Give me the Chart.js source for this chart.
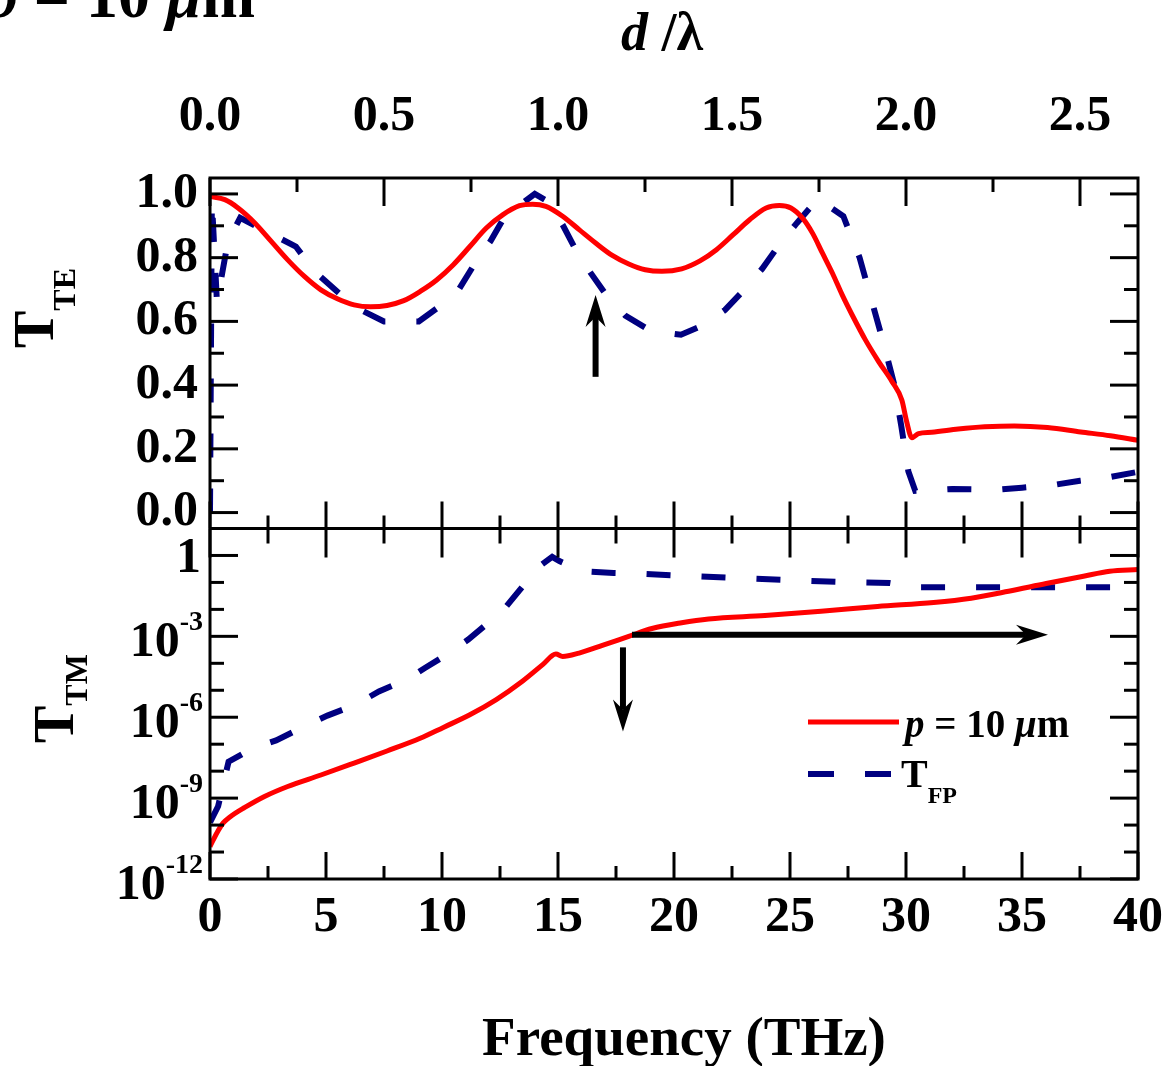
<!DOCTYPE html>
<html>
<head>
<meta charset="utf-8">
<script src="https://cdn.jsdelivr.net/npm/chart.js@4.4.1/dist/chart.umd.min.js"></script>
<style>
  body { margin: 0; background: #fff; }
  canvas { display: block; }
</style>
</head>
<body>
<canvas id="transChart" width="1172" height="1066"></canvas>
<script>
const SERIF = "'Liberation Serif', 'Times New Roman', serif";
const RED = '#ff0000';
const NAVY = '#000080';

// TE transmission (top panel), p = 10 um
const teFreq = [0, 0.64, 1.21, 1.93, 2.64, 3.35, 4.07, 4.78, 5.49, 6.21, 6.92, 7.63, 8.35, 9.06,
  9.77, 10.49, 11.2, 11.91, 12.63, 13.34, 13.91, 14.48, 15.2, 15.91, 16.62, 17.34, 18.05, 18.76,
  19.48, 20.33, 21.12, 21.83, 22.55, 23.26, 23.97, 24.54, 25.04, 25.54, 25.97, 26.4, 26.83, 27.25,
  27.68, 28.25, 28.82, 29.4, 29.82, 30.03, 30.25, 30.54, 31.11, 32.25, 33.39, 34.67, 36.1, 37.53,
  38.81, 40];
const teT = [0.992, 0.982, 0.956, 0.909, 0.851, 0.793, 0.741, 0.699, 0.671, 0.652, 0.646, 0.65, 0.665, 0.694,
  0.73, 0.778, 0.835, 0.893, 0.935, 0.963, 0.968, 0.961, 0.93, 0.888, 0.846, 0.807, 0.78, 0.762,
  0.757, 0.765, 0.79, 0.825, 0.872, 0.919, 0.956, 0.964, 0.956, 0.924, 0.877, 0.814, 0.751, 0.683,
  0.62, 0.542, 0.474, 0.411, 0.353, 0.285, 0.235, 0.248, 0.252, 0.262, 0.269, 0.272, 0.267, 0.253,
  0.241, 0.227];

// TE Fabry-Perot reference
const teFpFreq = [0, 0.08, 0.3, 0.77, 1.3, 2.7, 3.7, 4.5, 5.6, 6.5, 7.5, 9.0, 9.8, 10.7, 11.4, 12.1,
  12.7, 14.0, 14.55, 15.2, 15.8, 16.4, 17.1, 17.9, 19.0, 20.3, 21.3, 22.2, 23.1, 23.8, 24.6, 25.3,
  26.2, 27.3, 28.0, 28.5, 29.0, 29.5, 29.8, 30.1, 30.4, 32.0, 34.0, 35.0, 36.3, 37.5, 38.7, 40];
const teFpT = [0, 0.98, 0.66, 0.85, 0.925, 0.872, 0.835, 0.757, 0.686, 0.636, 0.6, 0.6, 0.642, 0.697, 0.78, 0.853,
  0.929, 1.0, 0.977, 0.903, 0.82, 0.753, 0.681, 0.618, 0.57, 0.558, 0.589, 0.636, 0.705, 0.765, 0.847, 0.909,
  0.985, 0.93, 0.8, 0.67, 0.54, 0.4, 0.27, 0.13, 0.068, 0.074, 0.072, 0.078, 0.086, 0.1, 0.11, 0.128];

// TM transmission (bottom panel, log scale)
const tmFreq = [0, 0.29, 0.57, 0.86, 1.5, 2.35, 3.35, 4.78, 6.21, 7.63, 9.06, 10.06, 11.2, 12.34,
  13.48, 14.34, 14.91, 15.2, 15.91, 16.91, 18.05, 19.05, 20.33, 21.49, 23.92, 26.34, 28.77, 31.19,
  32.81, 34.42, 36.04, 37.65, 38.78, 40];
const tmT = [1.6e-11, 5.0e-11, 1.2e-10, 2.0e-10, 4.5e-10, 1.15e-9, 2.7e-9, 7.2e-9, 2.0e-8, 5.6e-8, 1.66e-7, 4.2e-7, 1.23e-6, 4.5e-6,
  2.2e-5, 8.9e-5, 2.2e-4, 1.8e-4, 2.4e-4, 4.6e-4, 1.0e-3, 1.95e-3, 3.2e-3, 4.4e-3, 5.9e-3, 8.5e-3, 1.29e-2, 1.8e-2,
  2.6e-2, 4.7e-2, 9.1e-2, 0.17, 0.26, 0.30];

// TM Fabry-Perot reference
const tmFpFreq = [0, 0.35, 0.8, 1.85, 2.85, 4.07, 5.06, 6.28, 7.28, 8.46, 9.28, 10.2, 11.13, 12.0,
  12.77, 13.48, 14.2, 14.75, 15.06, 16.05, 17.4, 18.4, 20.3, 22.7, 25.1, 27.5, 29.3, 30.5, 40];
const tmFpT = [1.26e-10, 5.0e-10, 2.24e-8, 7.2e-8, 1.38e-7, 4.6e-7, 1.15e-6, 2.9e-6, 9.1e-6, 2.45e-5, 6.8e-5, 2.1e-4, 7.6e-4, 3.2e-3,
  1.29e-2, 7.2e-2, 0.40, 0.89, 0.62, 0.26, 0.224, 0.214, 0.178, 0.145, 0.12, 0.102, 0.095, 0.066, 0.066];

// axis ticks
const freqTicks = [0, 5, 10, 15, 20, 25, 30, 35, 40];
const freqMinor = [2.5, 7.5, 12.5, 17.5, 22.5, 27.5, 32.5, 37.5];
const dLambdaTicks = [0, 0.5, 1.0, 1.5, 2.0, 2.5];
const dLambdaMinor = [0.25, 0.75, 1.25, 1.75, 2.25];
const teTicks = [0, 0.2, 0.4, 0.6, 0.8, 1.0];
const teMinor = [0.1, 0.3, 0.5, 0.7, 0.9];
const tmTicks = [1, 1e-3, 1e-6, 1e-9, 1e-12];
const tmMinor = [1e-1, 1e-2, 1e-4, 1e-5, 1e-7, 1e-8, 1e-10, 1e-11];

// d = 20 um, so d/lambda = 1 at 15 THz
const THZ_PER_DLAMBDA = 15;

// arrows, in data units of the panel they sit in
const arrows = [
  { axis: 'yTE', from: [16.62, 0.426], to: [16.62, 0.683] },
  { axis: 'yTM', from: [17.8, 3.9e-4], to: [17.8, 2.95e-7] },
  { axis: 'yTM', from: [18.19, 1.15e-3], to: [36.12, 1.15e-3] }
];

const pts = (xs, ys) => xs.map((x, i) => ({ x, y: ys[i] }));
const bold = size => ({ family: SERIF, size, weight: 'bold', lineHeight: 1.2 });

function richText(ctx, parts, x, y, align) {
  let w = 0;
  parts.forEach(p => {
    ctx.font = (p.italic ? 'italic ' : '') + 'bold ' + p.size + 'px ' + SERIF;
    p.w = ctx.measureText(p.t).width;
    w += p.w;
  });
  let cx = align === 'right' ? x - w : align === 'center' ? x - w / 2 : x;
  ctx.textAlign = 'left';
  ctx.textBaseline = 'alphabetic';
  parts.forEach(p => {
    ctx.font = (p.italic ? 'italic ' : '') + 'bold ' + p.size + 'px ' + SERIF;
    ctx.fillText(p.t, cx, y + (p.dy || 0));
    cx += p.w;
  });
}

function seg(ctx, x0, y0, x1, y1) {
  ctx.beginPath();
  ctx.moveTo(x0, y0);
  ctx.lineTo(x1, y1);
  ctx.stroke();
}

function drawArrow(ctx, x0, y0, x1, y1) {
  const len = Math.hypot(x1 - x0, y1 - y0);
  const ux = (x1 - x0) / len, uy = (y1 - y0) / len;
  const head = 32, half = 10, notch = 22;
  ctx.lineWidth = 6;
  seg(ctx, x0, y0, x1 - ux * notch, y1 - uy * notch);
  ctx.beginPath();
  ctx.moveTo(x1, y1);
  ctx.lineTo(x1 - ux * head - uy * half, y1 - uy * head + ux * half);
  ctx.lineTo(x1 - ux * notch, y1 - uy * notch);
  ctx.lineTo(x1 - ux * head + uy * half, y1 - uy * head - ux * half);
  ctx.closePath();
  ctx.fill();
}

const decor = {
  id: 'decor',
  afterDatasetsDraw(chart) {
    const { ctx, chartArea: a, scales } = chart;
    const te = scales.yTE, tm = scales.yTM, fx = scales.x, dx = scales.xTop;
    ctx.save();
    ctx.strokeStyle = '#000';
    ctx.fillStyle = '#000';
    ctx.lineWidth = 3;
    ctx.lineCap = 'butt';

    // frame, with the border shared by both panels
    ctx.strokeRect(a.left, a.top, a.right - a.left, a.bottom - a.top);
    seg(ctx, a.left, te.bottom, a.right, te.bottom);

    const yTicks = (scale, vals, len) => vals.forEach(v => {
      const y = scale.getPixelForValue(v);
      seg(ctx, a.left, y, a.left + len, y);
      seg(ctx, a.right, y, a.right - len, y);
    });
    const xTicks = (scale, vals, y0, dir, len) => vals.forEach(v => {
      const x = scale.getPixelForValue(v);
      seg(ctx, x, y0, x, y0 + dir * len);
    });

    yTicks(te, teTicks, 28);
    yTicks(te, teMinor, 14);
    yTicks(tm, tmTicks, 28);
    yTicks(tm, tmMinor, 14);
    xTicks(dx, dLambdaTicks, a.top, 1, 28);
    xTicks(dx, dLambdaMinor, a.top, 1, 14);
    xTicks(fx, freqTicks, te.bottom, -1, 27);
    xTicks(fx, freqMinor, te.bottom, -1, 13);
    xTicks(fx, freqTicks, tm.top, 1, 29);
    xTicks(fx, freqMinor, tm.top, 1, 15);
    xTicks(fx, freqTicks, a.bottom, -1, 27);
    xTicks(fx, freqMinor, a.bottom, -1, 13);

    // log axis labels with exponents
    tmTicks.forEach(v => {
      const y = tm.getPixelForValue(v);
      const e = Math.round(Math.log10(v));
      if (e === 0) {
        richText(ctx, [{ t: '1', size: 50 }], 201, y + 17, 'right');
      } else {
        richText(ctx, [
          { t: '10', size: 50, dy: 20 },
          { t: String(e), size: 28, dy: -6 }
        ], 203, y, 'right');
      }
    });

    arrows.forEach(ar => {
      const ys = scales[ar.axis];
      drawArrow(ctx,
        fx.getPixelForValue(ar.from[0]), ys.getPixelForValue(ar.from[1]),
        fx.getPixelForValue(ar.to[0]), ys.getPixelForValue(ar.to[1]));
    });
    ctx.restore();
  },
  afterDraw(chart) {
    const { ctx } = chart;
    const ds = chart.data.datasets;
    ctx.save();
    ctx.fillStyle = '#000';

    // legend
    ctx.lineCap = 'butt';
    ctx.strokeStyle = ds[0].borderColor;
    ctx.lineWidth = ds[0].borderWidth;
    seg(ctx, 808, 722, 899, 722);
    ctx.strokeStyle = ds[1].borderColor;
    ctx.lineWidth = ds[1].borderWidth;
    ctx.setLineDash([26, 31]);
    seg(ctx, 808, 774, 891, 774);
    ctx.setLineDash([]);
    richText(ctx, [
      { t: 'p', size: 39, italic: true },
      { t: ' = 10 ', size: 39 },
      { t: 'μ', size: 39, italic: true },
      { t: 'm', size: 39 }
    ], 905, 737, 'left');
    richText(ctx, [
      { t: 'T', size: 40 },
      { t: 'FP', size: 24, dy: 16 }
    ], 901, 787, 'left');

    // axis titles
    richText(ctx, [{ t: 'Frequency (THz)', size: 55 }], 684, 1055, 'center');
    richText(ctx, [
      { t: 'd', size: 54, italic: true },
      { t: ' /λ', size: 54 }
    ], 621, 50, 'left');

    ctx.save();
    ctx.translate(53, 348);
    ctx.rotate(-Math.PI / 2);
    richText(ctx, [{ t: 'T', size: 56 }, { t: 'TE', size: 32, dy: 22 }], 0, 0, 'left');
    ctx.restore();

    ctx.save();
    ctx.translate(73, 743);
    ctx.rotate(-Math.PI / 2);
    richText(ctx, [{ t: 'T', size: 56 }, { t: 'TM', size: 32, dy: 14 }], 0, 0, 'left');
    ctx.restore();

    // panel caption running off the top edge
    richText(ctx, [
      { t: 'p', size: 64, italic: true },
      { t: ' = 10 ', size: 64 },
      { t: 'μ', size: 64, italic: true },
      { t: 'm', size: 64 }
    ], 255, 17, 'right');
    ctx.restore();
  }
};

const noGrid = { display: false, drawTicks: false };
const noBorder = { display: false };

new Chart(document.getElementById('transChart'), {
  type: 'line',
  data: {
    datasets: [
      {
        label: 'p = 10 μm',
        data: pts(teFreq, teT),
        yAxisID: 'yTE',
        borderColor: RED,
        borderWidth: 5,
        pointRadius: 0,
        cubicInterpolationMode: 'monotone',
        fill: false
      },
      {
        label: 'T_FP',
        data: pts(teFpFreq, teFpT),
        yAxisID: 'yTE',
        borderColor: NAVY,
        borderWidth: 6,
        borderDash: [24, 31],
        pointRadius: 0,
        tension: 0,
        fill: false
      },
      {
        label: 'p = 10 μm (TM)',
        data: pts(tmFreq, tmT),
        yAxisID: 'yTM',
        borderColor: RED,
        borderWidth: 5,
        pointRadius: 0,
        cubicInterpolationMode: 'monotone',
        fill: false
      },
      {
        label: 'T_FP (TM)',
        data: pts(tmFpFreq, tmFpT),
        yAxisID: 'yTM',
        borderColor: NAVY,
        borderWidth: 6,
        borderDash: [24, 31],
        pointRadius: 0,
        tension: 0,
        fill: false
      }
    ]
  },
  options: {
    responsive: false,
    animation: false,
    layout: { padding: { left: 0, right: 28, top: 0, bottom: 0 } },
    plugins: { legend: { display: false }, tooltip: { enabled: false } },
    scales: {
      x: {
        type: 'linear',
        position: 'bottom',
        min: 0,
        max: 40,
        afterBuildTicks: s => { s.ticks = freqTicks.map(v => ({ value: v })); },
        ticks: { font: bold(50), color: '#000', padding: 9, maxRotation: 0, autoSkip: false },
        grid: noGrid,
        border: noBorder,
        afterFit: s => { s.height = 187; }
      },
      xTop: {
        type: 'linear',
        position: 'top',
        min: 0,
        max: 40 / THZ_PER_DLAMBDA,
        afterBuildTicks: s => { s.ticks = dLambdaTicks.map(v => ({ value: v })); },
        ticks: {
          font: bold(50), color: '#000', padding: 31, maxRotation: 0, autoSkip: false,
          callback: v => v.toFixed(1)
        },
        grid: noGrid,
        border: noBorder,
        afterFit: s => { s.height = 178; }
      },
      yTM: {
        type: 'logarithmic',
        position: 'left',
        stack: 'panels',
        min: 1e-12,
        max: 10,
        ticks: { display: false },
        grid: noGrid,
        border: noBorder,
        afterFit: s => { s.width = 210; }
      },
      yTE: {
        type: 'linear',
        position: 'left',
        stack: 'panels',
        min: -0.05,
        max: 1.05,
        afterBuildTicks: s => { s.ticks = teTicks.map(v => ({ value: v })); },
        ticks: {
          font: bold(50), color: '#000', padding: 12, autoSkip: false,
          callback: v => v.toFixed(1)
        },
        grid: noGrid,
        border: noBorder,
        afterFit: s => { s.width = 210; }
      }
    }
  },
  plugins: [decor]
});
</script>
</body>
</html>
